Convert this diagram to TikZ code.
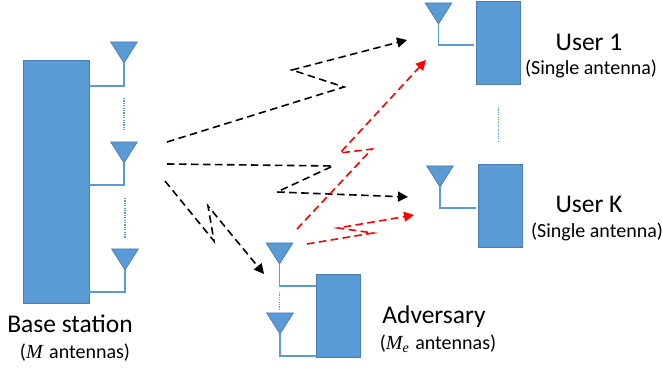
\documentclass[tikz,border=0pt]{standalone}
\usepackage{fontspec}
\setmainfont{Carlito}
\newfontfamily\sym[Scale=1.0]{Liberation Serif}
\usetikzlibrary{arrows.meta}
\definecolor{accent}{HTML}{5B9BD5}
\definecolor{accentdark}{HTML}{41719C}
\tikzset{
  x=1pt,y=-1pt,
  box/.style={fill=accent,draw=accentdark!70!accent,line width=0.7pt},
  antennahead/.style={fill=accent,draw=accentdark!70!accent,line width=0.7pt,line join=miter},
  feed/.style={draw=accent,line width=1.5pt,line join=miter},
  dots/.style={draw=accent,line width=1.7pt,dash pattern=on 1.2pt off 1.2pt},
  link/.style={line width=1.6pt,dash pattern=on 7.5pt off 4.5pt,-{Triangle[length=10pt,width=10pt]}},
  blacklink/.style={link,draw=black},
  redlink/.style={link,draw=red},
  big/.style={font=\fontsize{25.5}{28}\selectfont,anchor=base,inner sep=0pt},
  small/.style={font=\fontsize{20}{24}\selectfont,anchor=base,inner sep=0pt},
}
\newcommand{\antenna}[3]{% name, apex x, top y
  \coordinate (#1apex) at (#2,#3+21);
  \path[antennahead] (#2-13.3,#3) -- (#2+13.3,#3) -- (#1apex) -- cycle;
}
\begin{document}
\begin{tikzpicture}
\useasboundingbox (0,0) rectangle (662,371);
% base station
\path[box] (23,60) rectangle (89,303);
\antenna{ba}{124}{42}
\antenna{bb}{124}{142}
\antenna{bc}{125}{249}
\coordinate (bafoot) at (89,86);
\coordinate (bbfoot) at (89,185);
\coordinate (bcfoot) at (89,292);
\draw[feed] (baapex) |- (bafoot);
\draw[feed] (bbapex) |- (bbfoot);
\draw[feed] (bcapex) |- (bcfoot);
\coordinate (da1) at (124,98); \coordinate (da2) at (124,131);
\coordinate (db1) at (125,198); \coordinate (db2) at (125,238);
\draw[dots] (da1) -- (da2);
\draw[dots] (db1) -- (db2);
% adversary
\path[box] (316,274) rectangle (360,357);
\antenna{aa}{279.5}{243}
\antenna{ab}{280}{313}
\coordinate (aafoot) at (316,286);
\coordinate (abfoot) at (316,356);
\draw[feed] (aaapex) |- (aafoot);
\draw[feed] (abapex) |- (abfoot);
\coordinate (dc1) at (279.5,292); \coordinate (dc2) at (279.5,310);
\draw[dots] (dc1) -- (dc2);
% user 1
\path[box] (476,1) rectangle (520,84);
\antenna{ua}{438.5}{3}
\coordinate (uafoot) at (474,45);
\draw[feed] (uaapex) |- (uafoot);
% user K
\path[box] (478,164) rectangle (522.5,247);
\antenna{uk}{440}{166}
\coordinate (ukfoot) at (476,208);
\draw[feed] (ukapex) |- (ukfoot);
\coordinate (dd1) at (498.5,107); \coordinate (dd2) at (498.5,141);
\draw[dots] (dd1) -- (dd2);
% links
\coordinate (a0) at (167,142); \coordinate (a1) at (344,87); \coordinate (a2) at (292,70); \coordinate (a3) at (407,40);
\coordinate (b0) at (167,164); \coordinate (b1) at (333,166); \coordinate (b2) at (277,192); \coordinate (b3) at (408,197);
\coordinate (c0) at (165,181); \coordinate (c1) at (214,241); \coordinate (c2) at (208,206); \coordinate (c3) at (264,274);
\coordinate (r0) at (297,229); \coordinate (r1) at (372,149); \coordinate (r2) at (340,153); \coordinate (r3) at (426,60);
\coordinate (s0) at (307,244); \coordinate (s1) at (373,233); \coordinate (s2) at (338,228); \coordinate (s3) at (414,215);
\draw[blacklink] (a0) -- (a1) -- (a2) -- (a3);
\draw[blacklink] (b0) -- (b1) -- (b2) -- (b3);
\draw[blacklink] (c0) -- (c1) -- (c2) -- (c3);
\draw[redlink] (r0) -- (r1) -- (r2) -- (r3);
\draw[redlink] (s0) -- (s1) -- (s2) -- (s3);
% labels
\node[big] (tbs) at (70,332.5) {Base station};
\node[small] (tbsm) at (75,359) {({\sym\itshape M}\hspace{2pt} antennas)};
\node[big] (tu1) at (589,51) {User 1};
\node[small] (tu1s) at (591,74.5) {(Single antenna)};
\node[big] (tuk) at (589,212.5) {User K};
\node[small] (tuks) at (597,237.5) {(Single antenna)};
\node[big] (tad) at (434,323.5) {Adversary};
\node[small] (tads) at (438,350) {({\sym\itshape M\raisebox{-3pt}{\fontsize{14}{14}\selectfont e}}\hspace{2pt} antennas)};
\end{tikzpicture}
\end{document}
